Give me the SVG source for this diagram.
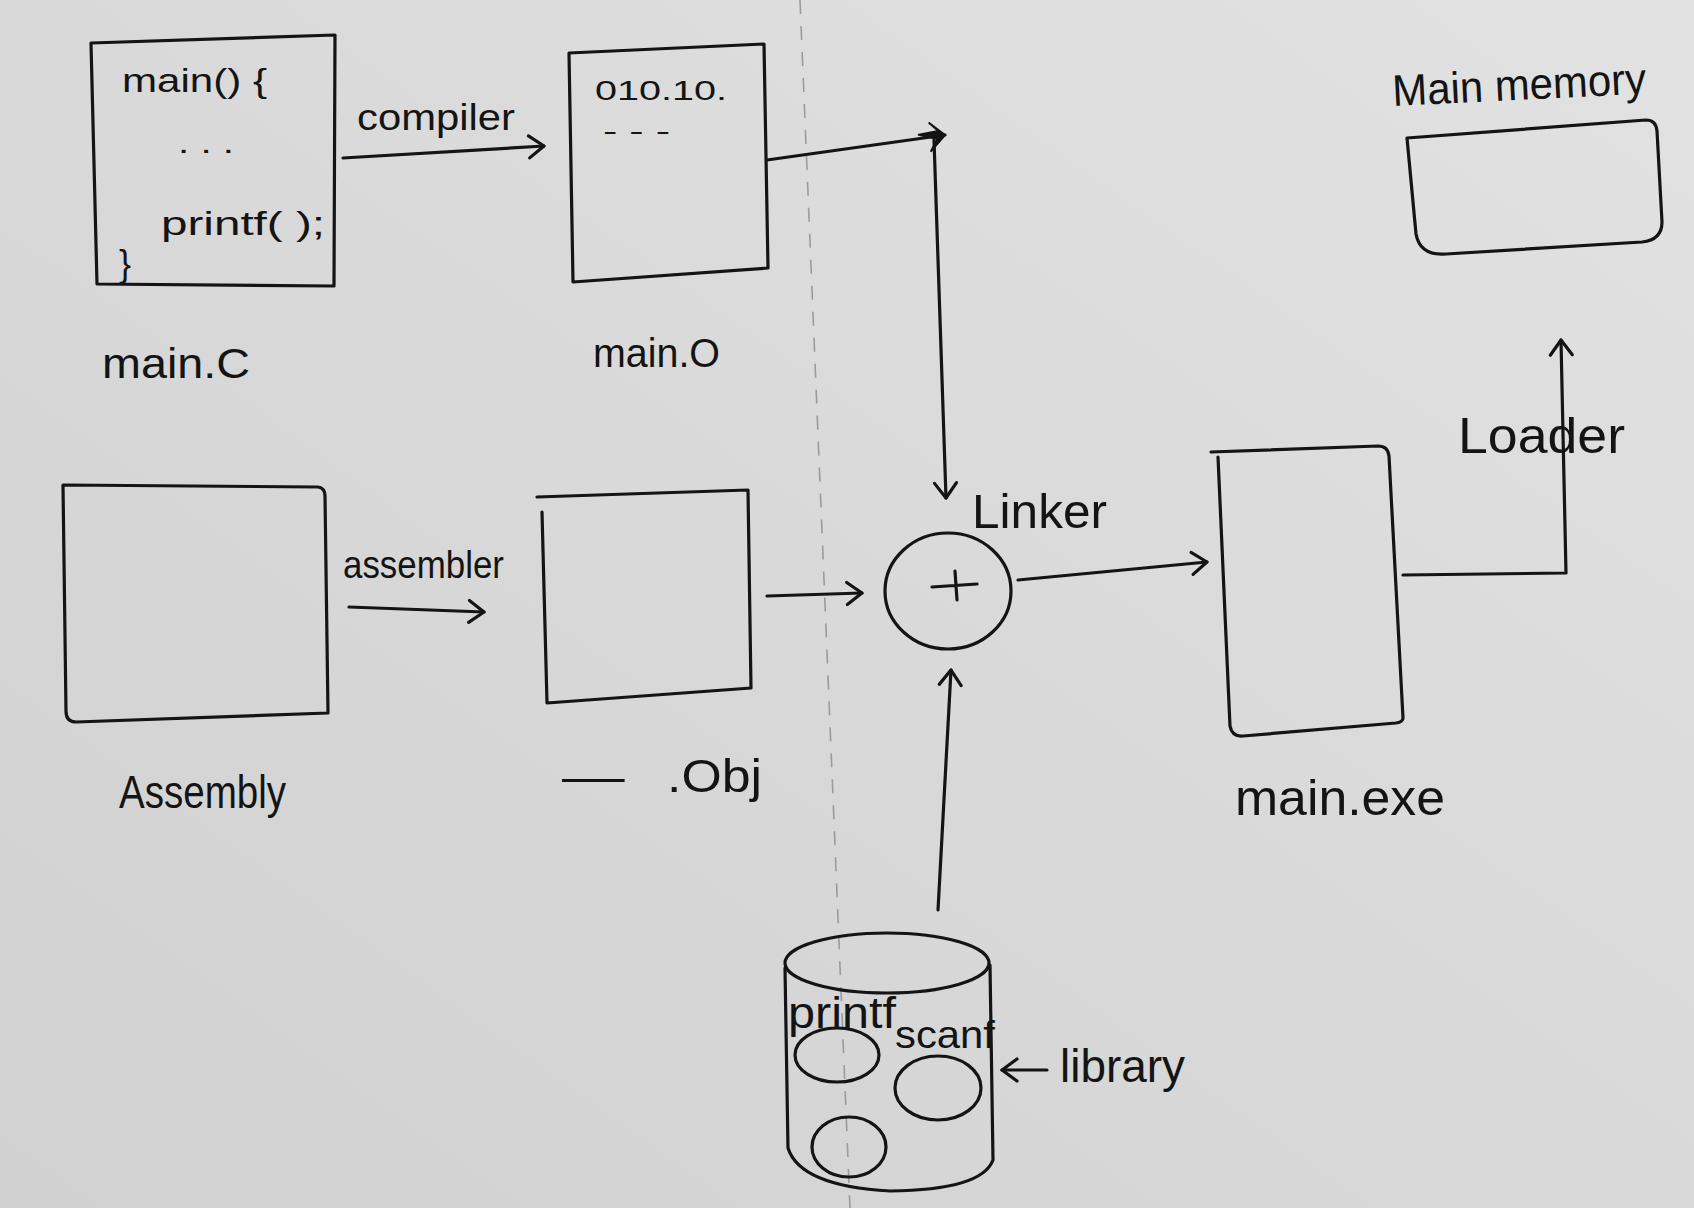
<svg xmlns="http://www.w3.org/2000/svg" width="1694" height="1208" viewBox="0 0 1694 1208">
<style>
.ln{fill:none;stroke:#141414;stroke-width:3.2;stroke-linecap:round;stroke-linejoin:round}
.t{font-family:"Liberation Sans","DejaVu Sans",sans-serif;fill:#141414}
</style>
<defs>
<linearGradient id="bg" x1="0" y1="1" x2="1" y2="0">
<stop offset="0" stop-color="#d0d1d0"/>
<stop offset="0.5" stop-color="#d8d9d8"/>
<stop offset="1" stop-color="#e1e2e1"/>
</linearGradient>
<marker id="arr" markerUnits="userSpaceOnUse" markerWidth="44" markerHeight="44" viewBox="-22 -22 44 44" refX="0" refY="0" orient="auto" overflow="visible">
<path d="M-15,-11 L0,0 L-15,11" fill="none" stroke="#141414" stroke-width="3.2" stroke-linecap="round" stroke-linejoin="round"/>
</marker>
<marker id="harp" markerUnits="userSpaceOnUse" markerWidth="44" markerHeight="44" viewBox="-22 -22 44 44" refX="0" refY="0" orient="auto" overflow="visible">
<path d="M-26,-4 L-6,-5 L-14,-14 L0,0 L-16,14 L-8,3 Z" fill="#141414" stroke="#141414" stroke-width="2" stroke-linejoin="round"/>
</marker>
</defs>
<rect width="1694" height="1208" fill="url(#bg)"/>
<line x1="800" y1="0" x2="850" y2="1208" stroke="#9a9b9a" stroke-width="1.6" stroke-dasharray="14 12"/>

<g id="main_c">
<path class="ln" d="M91,43 L335,35 L334,286 L97,284 Z"/>
<text class="t" x="122" y="92" font-size="34" textLength="145" lengthAdjust="spacingAndGlyphs">main() {</text>
<text class="t" x="178" y="153" font-size="30" textLength="56" lengthAdjust="spacingAndGlyphs">. . .</text>
<text class="t" x="161" y="235" font-size="34" textLength="164" lengthAdjust="spacingAndGlyphs">printf( );</text>
<text class="t" x="119" y="276" font-size="36">}</text>
<text class="t" x="102" y="378" font-size="42" textLength="148" lengthAdjust="spacingAndGlyphs">main.C</text>
</g>

<g id="main_o">
<path class="ln" d="M569,53 L764,44 L768,268 L573,282 Z"/>
<text class="t" x="595" y="100" font-size="28" textLength="132" lengthAdjust="spacingAndGlyphs">010.10.</text>
<text class="t" x="603" y="140" font-size="26" textLength="67" lengthAdjust="spacingAndGlyphs">- - -</text>
<text class="t" x="593" y="367" font-size="40" textLength="127" lengthAdjust="spacingAndGlyphs">main.O</text>
</g>

<g id="assembly">
<path class="ln" d="M63,485 L318,487 Q325,488 325,496 L328,713 L76,722 Q66,722 66,711 Z"/>
<text class="t" x="119" y="808" font-size="46" textLength="167" lengthAdjust="spacingAndGlyphs">Assembly</text>
</g>

<g id="obj">
<path class="ln" d="M537,497 L748,490 L751,688 L547,703 L542,512"/>
<text class="t" y="792" font-size="46"><tspan x="562" textLength="80" lengthAdjust="spacingAndGlyphs">— </tspan><tspan x="667" textLength="95" lengthAdjust="spacingAndGlyphs">.Obj</tspan></text>
</g>

<g id="linker">
<ellipse class="ln" cx="948" cy="591" rx="63" ry="58"/>
<path class="ln" d="M932,587 L977,584 M955,571 L957,600"/>
<text class="t" x="972" y="528" font-size="48" textLength="135" lengthAdjust="spacingAndGlyphs">Linker</text>
</g>

<g id="main_exe">
<path class="ln" d="M1211,452 L1378,446 Q1388,446 1389,456 L1403,718 Q1403,722 1396,723 L1243,736 Q1232,737 1230,726 L1218,457"/>
<text class="t" x="1235" y="815" font-size="50" textLength="210" lengthAdjust="spacingAndGlyphs">main.exe</text>
</g>

<g id="main_memory">
<path class="ln" d="M1407,138 L1646,120 Q1656,120 1657,131 L1662,222 Q1662,240 1642,242 L1446,254 Q1420,256 1416,234 Z"/>
<text class="t" x="1393" y="106" font-size="44" textLength="254" lengthAdjust="spacingAndGlyphs" transform="rotate(-2.8 1393 106)">Main memory</text>
</g>

<g id="library">
<ellipse class="ln" cx="887" cy="963" rx="102" ry="30"/>
<path class="ln" d="M785,968 L788,1148 Q800,1186 890,1191 Q982,1190 993,1160 L990,965"/>
<ellipse class="ln" cx="837" cy="1055" rx="42" ry="27"/>
<ellipse class="ln" cx="938" cy="1088" rx="43" ry="32"/>
<ellipse class="ln" cx="849" cy="1147" rx="37" ry="30"/>
<text class="t" x="788" y="1028" font-size="44" textLength="108" lengthAdjust="spacingAndGlyphs">printf</text>
<text class="t" x="895" y="1048" font-size="38" textLength="100" lengthAdjust="spacingAndGlyphs">scanf</text>
<text class="t" x="1060" y="1082" font-size="46" textLength="125" lengthAdjust="spacingAndGlyphs">library</text>
</g>

<g id="connectors">
<path class="ln" d="M343,158 L544,146" marker-end="url(#arr)"/>
<text class="t" x="357" y="130" font-size="36" textLength="158" lengthAdjust="spacingAndGlyphs">compiler</text>
<path class="ln" d="M349,607 L484,612" marker-end="url(#arr)"/>
<text class="t" x="343" y="578" font-size="38" textLength="161" lengthAdjust="spacingAndGlyphs">assembler</text>
<path class="ln" d="M767,160 L945,135" marker-end="url(#harp)"/>
<path class="ln" d="M934,140 L946,498" marker-end="url(#arr)"/>
<path class="ln" d="M767,596 L862,593" marker-end="url(#arr)"/>
<path class="ln" d="M1018,580 L1207,562" marker-end="url(#arr)"/>
<path class="ln" d="M938,910 L951,670" marker-end="url(#arr)"/>
<path class="ln" d="M1403,575 L1566,573 L1561,340" marker-end="url(#arr)"/>
<text class="t" x="1458" y="453" font-size="50" textLength="167" lengthAdjust="spacingAndGlyphs">Loader</text>
<path class="ln" d="M1047,1070 L1002,1070" marker-end="url(#arr)"/>
</g>
</svg>
